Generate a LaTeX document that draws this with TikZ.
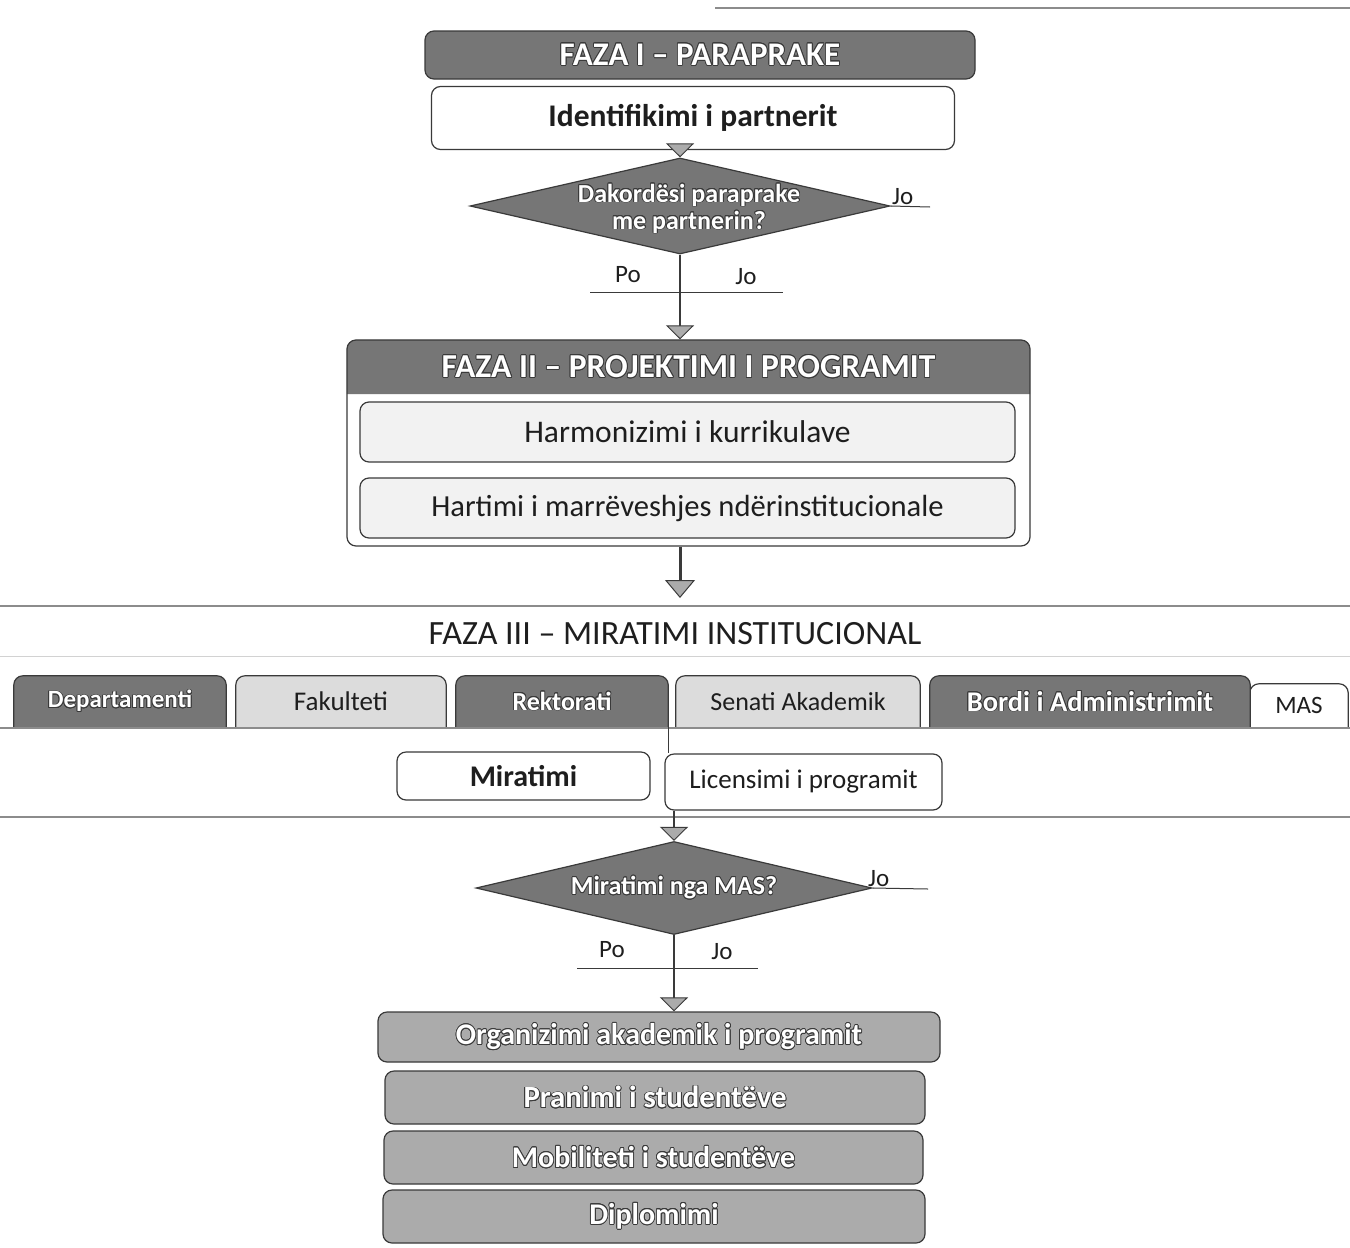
\documentclass[tikz,border=0pt]{standalone}
\usepackage{fontspec}
\setmainfont{Carlito}
\usepackage[copies]{contour}
\contourlength{0.8pt}
\contournumber{16}
\usetikzlibrary{shapes.geometric,arrows.meta,backgrounds}
\definecolor{dkfill}{HTML}{767676}
\definecolor{ltfill}{HTML}{DCDCDC}
\definecolor{mdfill}{HTML}{ABABAB}
\definecolor{palec}{HTML}{F2F2F2}
\definecolor{edgec}{HTML}{3A3A3A}
\definecolor{txtc}{HTML}{1E1E1E}
\definecolor{rulec}{HTML}{8C8C8C}
\definecolor{faintc}{HTML}{D2D2D2}
\newcommand{\wtx}[1]{\contour{edgec}{#1}}
\newcommand{\fsz}[1]{\fontsize{#1}{#1}\selectfont}
\newcommand{\tabbg}[2]{\path[draw=edgec,line width=1.2pt,fill=#2] (#1.south west) [rounded corners=9pt] -- (#1.north west) -- (#1.north east) -- (#1.south east);}
\begin{document}
\begin{tikzpicture}[x=1pt,y=-1pt,
  base/.style={inner sep=0pt, align=center, text=txtc},
  box/.style={base, draw=edgec, line width=1.2pt, rounded corners=9pt},
  dkbox/.style={box, fill=dkfill, text=white, font=\bfseries\fsz{33}},
  wbox/.style={box, fill=white},
  palebox/.style={box, fill=palec},
  mdbox/.style={box, fill=mdfill, text=white, font=\bfseries\fsz{30}},
  dec/.style={diamond, draw=edgec, line width=1.2pt, fill=dkfill, inner sep=0pt},
  dectext/.style={base, text=white, font=\bfseries\fontsize{26}{27}\selectfont},
  conn/.style={draw=edgec, line width=1.2pt},
  gtri/.tip={Triangle[width=28pt,length=14pt,fill=mdfill,line width=1pt]},
  lbl/.style={base, font=\fsz{25}},
  tabn/.style={base, minimum height=51pt, font=\fsz{26}},
  tabdk/.style={tabn, text=white, font=\bfseries\fsz{26}},
  rulel/.style={draw=rulec, line width=1.1pt},
  faint/.style={draw=faintc, line width=0.8pt}
]
\useasboundingbox (0,0) rectangle (1350,1248);
\begin{pgfonlayer}{background}
\fill[white] (0,0) rectangle (1350,1248);
\end{pgfonlayer}

% scan table rules
\coordinate (l0a) at (715,8); \coordinate (l0b) at (1350,8);
\draw[rulel] (l0a) -- (l0b);

% Phase I
\node[dkbox, minimum width=550pt, minimum height=48pt] (f1) at (700,55) {\wtx{FAZA I – PARAPRAKE}};
\node[wbox, minimum width=523pt, minimum height=63pt, font=\bfseries\fsz{31.5}] (idn) at (693,118) {Identifikimi i partnerit};
\node[dec, minimum width=420pt, minimum height=96pt] (d1) at (680,206) {};
\node[dectext, xshift=9pt, yshift=-3pt] (d1t) at (d1) {\wtx{Dakordësi paraprake}\\\wtx{me partnerin?}};
\draw[conn,-gtri] (d1.north |- idn.south) -- (d1.north);

\node[lbl, anchor=base west] (jo1) at (892,204) {Jo};
\coordinate (jo1r) at (930,207);
\draw[conn, line width=1pt] (d1.east) -- (jo1r);
\node[lbl] (po1) at (628,275) {Po};
\node[lbl] (jo1b) at (746,277) {Jo};
\coordinate (p1l) at (590,292); \coordinate (p1r) at (783,292);
\draw[conn, line width=1pt] (p1l) -- (p1r);

% Phase II
\node[base, minimum width=683pt, minimum height=54pt, text=white, font=\bfseries\fsz{33.5}] (f2h) at (688.5,367) {\wtx{FAZA II – PROJEKTIMI I PROGRAMIT}};
\node[box, minimum width=683pt, minimum height=206pt] (f2) at (688.5,443) {};
\begin{pgfonlayer}{background}
\fill[dkfill] (f2h.south west) [rounded corners=9pt] -- (f2h.north west) -- (f2h.north east) -- (f2h.south east);
\end{pgfonlayer}
\node[palebox, minimum width=655pt, minimum height=60pt, font=\fsz{31.5}] (h1) at (687.5,432) {Harmonizimi i kurrikulave};
\node[palebox, minimum width=655pt, minimum height=60pt, font=\fsz{30.6}] (h2) at (687.5,508) {Hartimi i marrëveshjes ndërinstitucionale};
\draw[conn,-gtri] (d1.south) -- (d1.south |- f2.north);

\coordinate (a3) at (680,598);
\draw[draw=edgec, line width=3pt, -{Triangle[width=30pt,length=18pt,fill=mdfill,line width=1pt]}] (a3 |- f2.south) -- (a3);

% Phase III
\coordinate (l1a) at (0,606); \coordinate (l1b) at (1350,606);
\draw[rulel] (l1a) -- (l1b);
\node[base, font=\fsz{34}] (f3) at (675,634) {FAZA III – MIRATIMI INSTITUCIONAL};
\coordinate (l2a) at (0,656); \coordinate (l2b) at (1350,656);
\draw[faint] (l2a) -- (l2b);

\node[tabdk, minimum width=212pt, font=\bfseries\fsz{25}] (tdep) at (120,701.5) {\wtx{Departamenti}};
\node[tabn, minimum width=210pt, font=\fsz{27}] (tfak) at (341,701.5) {Fakulteti};
\node[tabdk, minimum width=212pt] (trek) at (562,701.5) {\wtx{Rektorati}};
\node[tabn, minimum width=244pt] (tsen) at (798,701.5) {Senati Akademik};
\node[tabdk, minimum width=320pt, font=\bfseries\fsz{28.5}] (tbor) at (1090,701.5) {\wtx{Bordi i Administrimit}};
\node[tabn, minimum width=98pt, minimum height=43pt, font=\fsz{25}] (tmas) at (1299,705.5) {MAS};
\begin{pgfonlayer}{background}
\tabbg{tdep}{dkfill}
\tabbg{tfak}{ltfill}
\tabbg{trek}{dkfill}
\tabbg{tsen}{ltfill}
\tabbg{tmas}{white}
\tabbg{tbor}{dkfill}
\end{pgfonlayer}
\coordinate (l3a) at (0,728); \coordinate (l3b) at (1350,728);
\draw[rulel, line width=1.3pt] (l3a) -- (l3b);

\node[wbox, minimum width=253pt, minimum height=48pt, font=\bfseries\fsz{30}] (mir) at (523.5,776) {Miratimi};
\node[wbox, minimum width=277pt, minimum height=56pt, font=\fsz{27}] (lic) at (803.5,782) {Licensimi i programit};
\draw[conn] (trek.south east) -- (trek.south east |- lic.north);

\coordinate (l4a) at (0,817); \coordinate (l4b) at (1350,817);
\draw[rulel, line width=1.3pt] (l4a) -- (l4b);

\node[dec, minimum width=396pt, minimum height=93pt] (d2) at (674,888) {};
\node[dectext] (d2t) at (d2) {\wtx{Miratimi nga MAS?}};
\draw[conn,-gtri] (d2.north |- lic.south) -- (d2.north);
\node[lbl, anchor=base west] (jo2) at (868,886) {Jo};
\coordinate (jo2r) at (928,889);
\draw[conn, line width=1pt] (d2.east) -- (jo2r);
\node[lbl] (po2) at (612,950) {Po};
\node[lbl] (jo2b) at (722,952) {Jo};
\coordinate (p2l) at (577,968); \coordinate (p2r) at (758,968);
\draw[conn, line width=1pt] (p2l) -- (p2r);

\node[mdbox, minimum width=562pt, minimum height=50pt] (org) at (659,1037) {\wtx{Organizimi akademik i programit}};
\node[mdbox, minimum width=540pt, minimum height=53pt, font=\bfseries\fsz{30.8}] (pra) at (655,1097.5) {\wtx{Pranimi i studentëve}};
\node[mdbox, minimum width=539pt, minimum height=53pt] (mob) at (653.5,1157.5) {\wtx{Mobiliteti i studentëve}};
\node[mdbox, minimum width=542pt, minimum height=53pt] (dip) at (654,1216.5) {\wtx{Diplomimi}};
\draw[conn,-gtri] (d2.south) -- (d2.south |- org.north);
\end{tikzpicture}
\end{document}
